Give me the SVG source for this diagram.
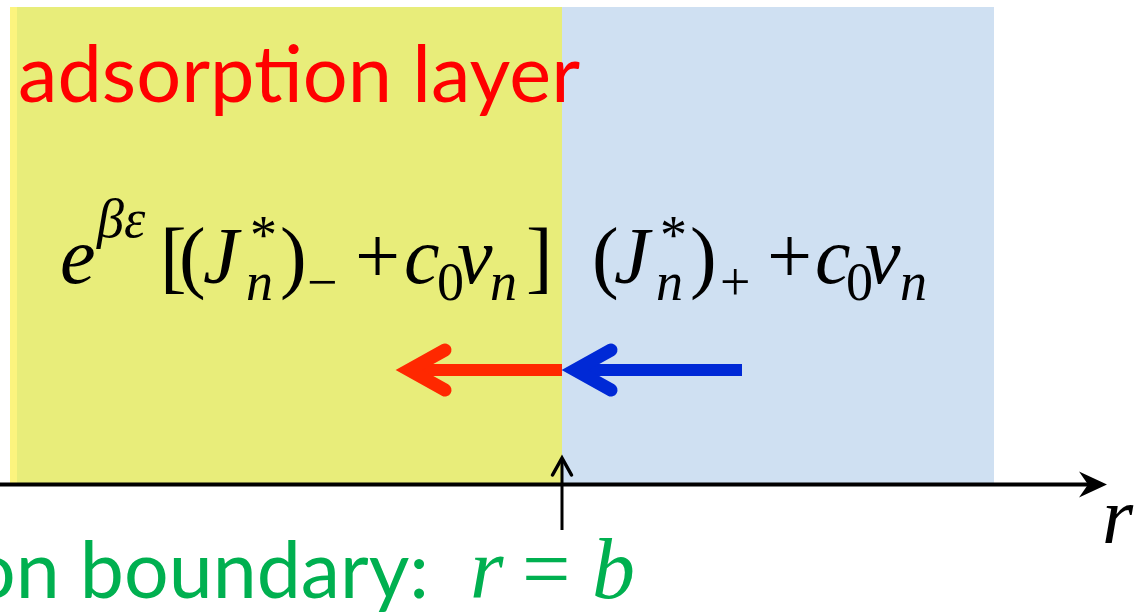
<svg xmlns="http://www.w3.org/2000/svg" width="1140" height="612" viewBox="0 0 1140 612">
<style>
text.m{font-family:'Liberation Serif','Times New Roman',serif;font-size:80px;fill:#000}
text.s{font-size:54px}
text.i{font-style:italic}
text.g{fill:#00b050;font-size:86px}
text.lbl{font-family:Lato,'Open Sans','Liberation Sans',sans-serif;font-size:80px}
</style>
<rect width="1140" height="612" fill="#fff"/>
<g id="regions">
<rect x="10" y="7" width="8" height="477" fill="#fcf47e"/>
<rect x="17" y="7" width="545" height="477" fill="#e8ed7a"/>
<rect x="562" y="7" width="432" height="477" fill="#cfe0f2"/>
</g>
<g id="label-layer">
<text class="lbl" x="18" y="102" fill="#ff0000" textLength="562" lengthAdjust="spacingAndGlyphs">adsorption layer</text>
</g>
<g id="formula-left">
<text class="m i" x="60" y="283">e</text>
<text class="m i s" x="97" y="237">βε</text>
<text class="m" x="160" y="283">[</text>
<text class="m" x="179" y="283">(</text>
<text class="m i" x="203" y="283">J</text>
<text class="m s" x="250" y="253">*</text>
<text class="m i s" x="246" y="300">n</text>
<text class="m" x="280" y="283">)</text>
<text class="m s" x="307" y="300">−</text>
<text class="m" x="355" y="283">+</text>
<text class="m i" x="404" y="283">c</text>
<text class="m s" x="437" y="300">0</text>
<text class="m i" x="457" y="283">v</text>
<text class="m i s" x="490" y="300">n</text>
<text class="m" x="526" y="283">]</text>
</g>
<g id="formula-right">
<text class="m" x="592" y="283">(</text>
<text class="m i" x="614" y="283">J</text>
<text class="m s" x="660" y="253">*</text>
<text class="m i s" x="656" y="300">n</text>
<text class="m" x="690" y="283">)</text>
<text class="m s" x="720" y="300">+</text>
<text class="m" x="767" y="283">+</text>
<text class="m i" x="815" y="283">c</text>
<text class="m s" x="846" y="300">0</text>
<text class="m i" x="865" y="283">v</text>
<text class="m i s" x="900" y="300">n</text>
</g>
<g id="label-boundary">
<text class="lbl" x="-29" y="598" fill="#00b050" textLength="458" lengthAdjust="spacingAndGlyphs">on boundary:</text>
<text class="m i g" x="470" y="598">r</text>
<text class="m g" x="522" y="598">=</text>
<text class="m i g" x="592" y="598">b</text>
</g>
<g id="label-r">
<text class="m i" x="1102" y="543">r</text>
</g>
<g id="connectors" fill="none">
<line x1="0" y1="484.5" x2="1092" y2="484.5" stroke="#000" stroke-width="4"/>
<polygon points="1107,484.5 1079,471.5 1088,484.5 1079,497.5" fill="#000"/>
<line x1="562" y1="530" x2="562" y2="460" stroke="#000" stroke-width="3"/>
<polyline points="552.5,475 562,458 571.5,475" stroke="#000" stroke-width="3.5" stroke-linecap="round"/>
<line x1="562" y1="370" x2="412" y2="370" stroke="#ff2800" stroke-width="12"/>
<polyline points="445,350 409,370 445,390" stroke="#ff2800" stroke-width="13" stroke-linecap="round" stroke-linejoin="miter"/>
<line x1="742" y1="370" x2="578" y2="370" stroke="#0029d6" stroke-width="12"/>
<polyline points="611,350 575,370 611,390" stroke="#0029d6" stroke-width="13" stroke-linecap="round" stroke-linejoin="miter"/>
</g>
</svg>
